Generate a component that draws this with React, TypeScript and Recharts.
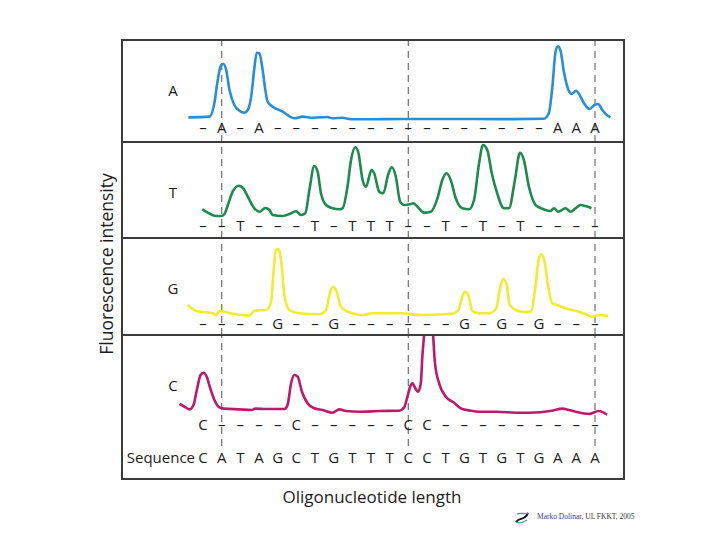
import { LineChart, Line, XAxis, YAxis, ReferenceLine } from "recharts";

// read sequence (one letter per oligonucleotide length)
const SEQUENCE = ["C", "A", "T", "A", "G", "C", "T", "G", "T", "T", "T", "C", "C", "T", "G", "T", "G", "T", "G", "A", "A", "A"];
const POSITIONS = SEQUENCE.map((_, i) => i);
const MARKERS = [1, 11, 21];

// [position, fluorescence (% of panel)]
const TRACE_A: [number, number][] = [
  [-0.78, 5.7], [0.35, 6.5], [0.61, 23.2], [0.79, 51.2], [0.97, 69.5], [1.1, 70.7], [1.24, 63.4],
  [1.42, 39], [1.68, 20.7], [1.95, 13.8], [2.22, 11.3], [2.4, 14.6], [2.58, 30.9], [2.76, 67.4],
  [2.88, 84.5], [3.02, 83.8], [3.17, 67.4], [3.34, 39], [3.46, 24.8], [3.73, 18.7], [4.27, 12.6],
  [4.89, 4.5], [5.34, 6.5], [5.87, 5.2], [6.41, 5.7], [6.66, 6.1], [6.93, 4.5], [7.46, 5.2],
  [7.93, 3.3], [8.9, 3.3], [10.67, 3.7], [13.18, 3.7], [15.86, 3.5], [18.26, 4], [18.53, 11],
  [18.71, 41.5], [18.89, 86.2], [19.01, 92.3], [19.16, 86.2], [19.33, 61.8], [19.51, 43.5],
  [19.74, 34.1], [19.99, 38.2], [20.17, 33.3], [20.4, 23.2], [20.71, 15.9], [20.99, 21.1],
  [21.17, 22], [21.38, 15], [21.65, 8.2], [21.83, 5.7],
];

const TRACE_T: [number, number][] = [
  [-0.04, 13.7], [0.26, 9.4], [0.61, 5.5], [0.97, 5.1], [1.15, 7.7], [1.33, 19.2], [1.59, 36.3],
  [1.91, 44], [2.13, 41.4], [2.4, 29.9], [2.75, 15], [3.02, 10.6], [3.34, 15.4], [3.56, 12.8],
  [3.73, 6.4], [4.27, 5.1], [4.63, 7.7], [4.98, 11.2], [5.25, 6.4], [5.48, 8.6], [5.7, 38.5],
  [5.96, 69.2], [6.14, 61.9], [6.32, 34.2], [6.59, 19.2], [6.94, 15], [7.3, 13.7], [7.48, 15],
  [7.74, 42.7], [7.93, 76.9], [8.16, 93.2], [8.33, 85.5], [8.55, 51.3], [8.73, 42.7], [9.03, 64.1],
  [9.17, 59.9], [9.44, 36.3], [9.65, 34.2], [9.94, 59.9], [10.12, 67.6], [10.33, 55.5], [10.56, 23.5],
  [10.78, 19.2], [11.13, 20.5], [11.26, 21.4], [11.49, 17.1], [11.84, 9.4], [12.2, 10.6], [12.56, 27.8],
  [12.82, 51.3], [13.04, 59.9], [13.27, 51.3], [13.54, 27.8], [13.89, 15], [14.25, 13.7], [14.52, 25.6],
  [14.79, 72.7], [15, 96.2], [15.23, 89.7], [15.47, 59.9], [15.76, 34.2], [16.12, 15], [16.39, 15],
  [16.71, 51.3], [16.98, 86.3], [17.19, 76.9], [17.46, 42.7], [17.82, 19.2], [18.26, 13.7], [18.62, 11.5],
  [18.8, 15], [19.03, 10.6], [19.42, 15], [19.69, 10.6], [19.96, 15], [20.22, 19.2], [20.49, 17.9],
  [20.81, 15],
];

const TRACE_G: [number, number][] = [
  [-0.82, 16.3], [-0.36, 8.8], [0.17, 7.1], [0.52, 5.9], [0.71, 3.8], [0.88, 8.8], [1.24, 7.1],
  [1.78, 4.6], [2.49, 2.9], [2.75, 8.8], [3.02, 9.6], [3.38, 10], [3.65, 20.4], [3.79, 62.1],
  [3.91, 85], [4.05, 86.3], [4.21, 66.3], [4.36, 28.8], [4.63, 10], [5.16, 5.9], [6.23, 4.6],
  [6.59, 10], [6.8, 30.9], [6.98, 39.1], [7.16, 32.9], [7.39, 14.1], [7.83, 7.1], [8.55, 3.8],
  [9.08, 5.9], [10.68, 5.9], [11.58, 3.8], [13.36, 5.4], [13.68, 10], [13.89, 26.6], [14.04, 32.9],
  [14.21, 28.8], [14.43, 8.8], [14.79, 5.9], [15.32, 5.9], [15.71, 12.1], [15.91, 37.1], [16.09, 48.8],
  [16.27, 41.3], [16.43, 16.3], [16.75, 10], [17.1, 7.9], [17.55, 7.9], [17.82, 41.3], [17.96, 70.4],
  [18.12, 79.6], [18.3, 70.4], [18.48, 41.3], [18.71, 18.4], [19.06, 15.4], [19.42, 12.1], [20.13, 7.9],
  [20.49, 5], [20.84, 1.6], [21.2, 3.8], [21.7, 2.9],
];

const TRACE_C: [number, number][] = [
  [-1.26, 17.9], [-0.99, 14.6], [-0.72, 11.5], [-0.51, 16.7], [-0.33, 34.5], [-0.13, 52.4], [0.03, 55.1],
  [0.2, 50.4], [0.39, 36.5], [0.61, 22.6], [0.88, 13.9], [1.15, 12.3], [1.95, 11.5], [2.58, 10.7],
  [2.81, 12.3], [3.38, 11.9], [4.36, 11.9], [4.53, 16.7], [4.72, 42.5], [4.89, 52.4], [5.07, 50.4],
  [5.3, 32.5], [5.6, 18.7], [5.96, 12.7], [6.41, 10.7], [6.94, 7.5], [7.3, 11.5], [7.66, 9.5],
  [8.37, 8.7], [9.44, 9.5], [10.51, 9.9], [10.78, 13.9], [10.95, 26.5], [11.1, 38.5], [11.22, 42.5],
  [11.4, 35.4], [11.52, 32.5], [11.67, 42.5], [11.75, 74.2], [11.84, 100], [12.09, 260], [12.33, 100],
  [12.43, 66.3], [12.65, 42.5], [13.01, 26.5], [13.45, 19.4], [13.81, 12.7], [14.34, 9.9], [14.79, 8.7],
  [15.68, 8.7], [16.93, 7.5], [17.46, 7.5], [18.71, 9.9], [19.24, 12.3], [19.6, 10.7], [19.96, 8.7],
  [20.67, 6], [21.2, 9.5], [21.65, 5.1],
];

const FONT = "'Open Sans', sans-serif";
const INK = "#1c1c1c";
const FRAME_X = 123;
const FRAME_W = 500;
const X_DOMAIN: [number, number] = [-1.5, 22.5];

interface PanelProps {
  base: string;
  color: string;
  trace: [number, number][];
  top: number;
  plot: number;
  axis: number;
  tickMargin: number;
  withSequence?: boolean;
}

function SequenceTick(props: any) {
  const { x, y, payload } = props;
  return (
    <g>
      <text x={x} y={y} dy="0.71em" textAnchor="middle" fontSize={15} fill={INK} fontFamily={FONT}>
        {SEQUENCE[payload.value]}
      </text>
      {payload.value === 0 && (
        <text x={x - 8} y={y} dy="0.71em" textAnchor="end" fontSize={15} fill={INK} fontFamily={FONT}>
          Sequence
        </text>
      )}
    </g>
  );
}

function Panel({ base, color, trace, top, plot, axis, tickMargin, withSequence }: PanelProps) {
  const data = trace.map(([x, v]) => ({ x, v }));
  const seqAxis = withSequence ? 40 : 0;
  // dashed guides run down through the letter rows
  const reach = withSequence ? 27 : axis;
  const low = (-reach / plot) * 100;
  return (
    <div style={{ position: "absolute", left: FRAME_X, top }}>
      <LineChart
        width={FRAME_W}
        height={plot + axis + seqAxis}
        data={data}
        margin={{ top: 0, right: 0, bottom: 0, left: 52 }}
      >
        <XAxis
          type="number"
          dataKey="x"
          domain={X_DOMAIN}
          allowDataOverflow
          ticks={POSITIONS}
          interval={0}
          tickFormatter={(i: number) => (SEQUENCE[i] === base ? base : "–")}
          axisLine={false}
          tickLine={false}
          tickSize={0}
          tickMargin={tickMargin}
          height={axis}
          tick={{ fontSize: 15, fill: INK, fontFamily: FONT }}
        />
        {withSequence && (
          <XAxis
            xAxisId="seq"
            type="number"
            dataKey="x"
            domain={X_DOMAIN}
            allowDataOverflow
            ticks={POSITIONS}
            interval={0}
            axisLine={false}
            tickLine={false}
            tickSize={0}
            tickMargin={13}
            height={seqAxis}
            tick={<SequenceTick />}
          />
        )}
        <YAxis hide domain={[0, 100]} allowDataOverflow />
        {MARKERS.map((m) => (
          <ReferenceLine
            key={m}
            segment={[{ x: m, y: low }, { x: m, y: 100 }]}
            ifOverflow="visible"
            stroke="#7a7a7a"
            strokeWidth={1.3}
            strokeDasharray="7 5"
          />
        ))}
        <Line
          type="monotone"
          dataKey="v"
          stroke={color}
          strokeWidth={2.6}
          dot={false}
          isAnimationActive={false}
        />
      </LineChart>
      <div
        style={{
          position: "absolute",
          left: 50,
          top: 50,
          transform: "translate(-50%, -50%)",
          fontFamily: FONT,
          fontSize: 15,
          lineHeight: 1,
          color: INK,
        }}
      >
        {base}
      </div>
    </div>
  );
}

export default function App() {
  return (
    <div style={{ position: "absolute", left: 0, top: 0, width: 720, height: 540, background: "#fff" }}>
      <Panel base="A" color="#2a8fd2" trace={TRACE_A} top={40} plot={82} axis={20} tickMargin={0} />
      <Panel base="T" color="#1e8a4e" trace={TRACE_T} top={142} plot={78} axis={18} tickMargin={0} />
      <Panel base="G" color="#f3ec2e" trace={TRACE_G} top={238} plot={80} axis={17} tickMargin={0} />
      <Panel base="C" color="#c0186c" trace={TRACE_C} top={335} plot={84} axis={20} tickMargin={0} withSequence />

      {[141, 237, 334].map((y) => (
        <div key={y} style={{ position: "absolute", left: 122, top: y, width: 502, height: 2, background: "#3c3c3c" }} />
      ))}
      <div
        style={{
          position: "absolute",
          left: 121,
          top: 39,
          width: 504,
          height: 441,
          border: "2px solid #3c3c3c",
          boxSizing: "border-box",
          pointerEvents: "none",
        }}
      />

      <div
        style={{
          position: "absolute",
          left: 106,
          top: 264,
          transform: "translate(-50%, -50%) rotate(-90deg)",
          whiteSpace: "nowrap",
          fontFamily: FONT,
          fontSize: 17.5,
          color: INK,
        }}
      >
        Fluorescence intensity
      </div>
      <div
        style={{
          position: "absolute",
          left: 372,
          top: 496,
          transform: "translate(-50%, -50%)",
          whiteSpace: "nowrap",
          fontFamily: FONT,
          fontSize: 17,
          color: INK,
        }}
      >
        Oligonucleotide length
      </div>

      <svg style={{ position: "absolute", left: 514, top: 509 }} width={16} height={16}>
        <path d="M2 13 C5 8, 11 12, 14 4" stroke="#111" strokeWidth={2} fill="none" />
        <path d="M3 5 C7 3, 10 6, 14 4" stroke="#3aa7a8" strokeWidth={1.4} fill="none" />
        <path d="M2 13 C6 15, 10 13, 13 11" stroke="#3aa7a8" strokeWidth={1.2} fill="none" />
      </svg>
      <div
        style={{
          position: "absolute",
          left: 537,
          top: 512,
          whiteSpace: "nowrap",
          fontFamily: "'Liberation Serif', serif",
          fontSize: 7.5,
          color: "#333",
        }}
      >
        <span style={{ color: "#34409a" }}>Marko Dolinar</span>, UL FKKT, 2005
      </div>
    </div>
  );
}
